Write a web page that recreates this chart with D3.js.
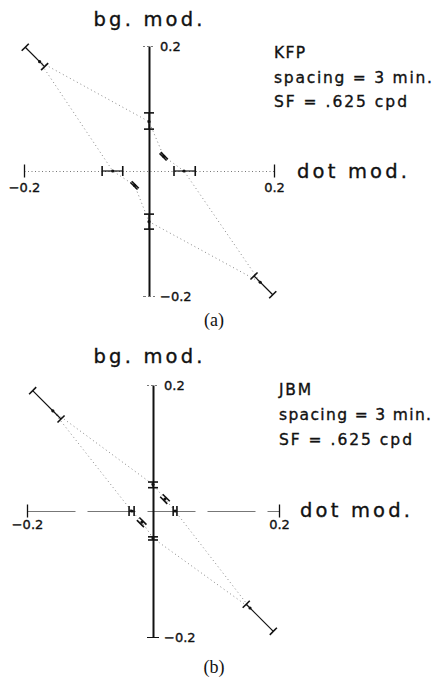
<!DOCTYPE html>
<html><head><meta charset="utf-8">
<script src="https://cdn.jsdelivr.net/npm/d3@7"></script>
<style>
html,body{margin:0;padding:0;background:#fff;}
svg{display:block;}
.lbl{font-family:"DejaVu Sans",sans-serif;fill:#111;stroke:#111;stroke-width:0.35;}
.cap{font-family:"Liberation Serif","Times New Roman",serif;fill:#111;}
</style></head><body>
<svg id="chart" width="436" height="681"></svg>
<script>
// Test directions in (dot mod., bg. mod.) space, going round the origin
const directionNames = ["dot+", "dot+ bg+", "bg+", "dot- bg+", "dot-", "dot- bg-", "bg-", "dot+ bg-"];
const dirDot = [1, 1, 0, -1, -1, -1, 0, 1];
const dirBg  = [0, 1, 1, 1, 0, -1, -1, -1];

// Observer KFP: threshold modulation (per axis) with error-bar limits
const kfpThreshold = [0.056, 0.0235, 0.079, 0.175, 0.058, 0.023, 0.081, 0.178];
const kfpLow       = [0.040, 0.0225, 0.067, 0.167, 0.042, 0.022, 0.069, 0.168];
const kfpHigh      = [0.074, 0.0245, 0.093, 0.198, 0.075, 0.024, 0.093, 0.198];

// Observer JBM
const jbmThreshold = [0.035, 0.019, 0.042, 0.159, 0.034, 0.0175, 0.043, 0.154];
const jbmLow       = [0.032, 0.017, 0.037, 0.146, 0.030, 0.016, 0.041, 0.148];
const jbmHigh      = [0.038, 0.021, 0.046, 0.191, 0.038, 0.020, 0.046, 0.191];

const axisDomain = [-0.2, 0.2];
const axisTicks = [-0.2, 0.2];
const xAxisTitle = "dot mod.";
const yAxisTitle = "bg. mod.";
const observers = ["KFP", "JBM"];
const infoLines = ["spacing = 3 min.", "SF = .625 cpd"];
const panelLabels = ["(a)", "(b)"];

const svg = d3.select("#chart");
const fmt = d3.format(".1f");

const panels = [
  { cx: 149, cy: 171, half: 125, thr: kfpThreshold, lo: kfpLow, hi: kfpHigh,
    xDash: "1,2.5", topTickDash: "2,2", botTickDash: "3,2", botTickColor: "#777",
    titleY: 26, titleX: 148, xTitleDx: 23, xTitleDy: 7, xLabelDy: 21,
    infoX: 274, infoY: [58, 83, 107], noteLen: [31, 158, 133], capY: 326 },
  { cx: 153, cy: 511, half: 126, thr: jbmThreshold, lo: jbmLow, hi: jbmHigh,
    xDash: "48,12", topTickDash: "2,2", botTickDash: null, botTickColor: "#111",
    titleY: 363, titleX: 148, xTitleDx: 21, xTitleDy: 6, xLabelDy: 18,
    infoX: 279, infoY: [395, 420, 445], noteLen: [32, 152, 133], capY: 673 }
];

panels.forEach((p, k) => {
  const g = svg.append("g");
  const x = d3.scaleLinear().domain(axisDomain).range([p.cx - p.half, p.cx + p.half]);
  const y = d3.scaleLinear().domain(axisDomain).range([p.cy + p.half, p.cy - p.half]);

  // horizontal (dot mod.) axis
  const gx = g.append("g").attr("transform", `translate(0,${y(0)})`)
    .call(d3.axisBottom(x).tickValues(axisTicks).tickSizeOuter(0).tickFormat(fmt));
  gx.select(".domain").attr("stroke", "#777").attr("stroke-width", 1)
    .attr("stroke-dasharray", p.xDash);
  gx.selectAll(".tick line").attr("y1", -6.5).attr("y2", 6.5)
    .attr("stroke", "#111").attr("stroke-width", 1.3);
  gx.selectAll(".tick text").attr("class", "lbl").attr("y", p.xLabelDy).attr("dy", null)
    .attr("font-size", 13);

  // vertical (bg. mod.) axis
  const gy = g.append("g").attr("transform", `translate(${x(0)},0)`)
    .call(d3.axisRight(y).tickValues(axisTicks).tickSizeOuter(0).tickFormat(fmt));
  gy.select(".domain").attr("stroke", "#111").attr("stroke-width", 2);
  gy.selectAll(".tick line").attr("x1", -6).attr("x2", 6).attr("stroke-width", 1)
    .attr("stroke", d => d > 0 ? "#777" : p.botTickColor)
    .attr("stroke-dasharray", d => d > 0 ? p.topTickDash : p.botTickDash);
  gy.selectAll(".tick text").attr("class", "lbl").attr("x", 11).attr("dy", "0.36em")
    .attr("font-size", 13);
  g.selectAll(".tick text").attr("font-family", "DejaVu Sans, sans-serif").attr("fill", "#111");

  // axis titles
  g.append("text").attr("class", "lbl").attr("x", x(0.2) + p.xTitleDx).attr("y", y(0) + p.xTitleDy)
    .attr("font-size", 19.5).attr("textLength", 110).attr("lengthAdjust", "spacing").text(xAxisTitle);
  g.append("text").attr("class", "lbl").attr("x", p.titleX).attr("y", p.titleY)
    .attr("text-anchor", "middle").attr("font-size", 19.5)
    .attr("textLength", 109).attr("lengthAdjust", "spacing").text(yAxisTitle);

  // points for each test direction
  const pts = directionNames.map((name, i) => {
    const ux = dirDot[i], uy = -dirBg[i];
    const len = Math.hypot(ux, uy);
    return {
      name,
      m: [x(dirDot[i] * p.thr[i]), y(dirBg[i] * p.thr[i])],
      a: [x(dirDot[i] * p.lo[i]), y(dirBg[i] * p.lo[i])],
      b: [x(dirDot[i] * p.hi[i]), y(dirBg[i] * p.hi[i])],
      n: [-uy / len, ux / len]
    };
  });

  // dotted contour joining the thresholds
  g.append("path").datum(pts)
    .attr("d", d3.line().x(d => d.m[0]).y(d => d.m[1]).curve(d3.curveLinearClosed))
    .attr("fill", "none").attr("stroke", "#888").attr("stroke-width", 1)
    .attr("stroke-dasharray", "1,3");

  // error bars along each direction
  const eb = g.append("g").selectAll("g").data(pts).join("g");
  eb.append("line").attr("x1", d => d.a[0]).attr("y1", d => d.a[1])
    .attr("x2", d => d.b[0]).attr("y2", d => d.b[1])
    .attr("stroke", "#111").attr("stroke-width", 1.2);
  const capHalf = 5;
  [d => d.a, d => d.b].forEach(end => {
    eb.append("line")
      .attr("x1", d => end(d)[0] - d.n[0] * capHalf).attr("y1", d => end(d)[1] - d.n[1] * capHalf)
      .attr("x2", d => end(d)[0] + d.n[0] * capHalf).attr("y2", d => end(d)[1] + d.n[1] * capHalf)
      .attr("stroke", "#111").attr("stroke-width", 1.6);
  });
  eb.append("circle").attr("cx", d => d.m[0]).attr("cy", d => d.m[1]).attr("r", 1.6).attr("fill", "#111");

  // observer and stimulus notes
  const notes = [observers[k]].concat(infoLines);
  g.selectAll(".note").data(notes).join("text").attr("class", "lbl note")
    .attr("x", p.infoX).attr("y", (d, i) => p.infoY[i]).attr("font-size", 15.5)
    .attr("textLength", (d, i) => p.noteLen[i]).attr("lengthAdjust", "spacing").text(d => d);

  // panel caption
  g.append("text").attr("class", "cap").attr("x", 214).attr("y", p.capY)
    .attr("text-anchor", "middle").attr("font-size", 18).text(panelLabels[k]);
});
</script>
</body></html>
